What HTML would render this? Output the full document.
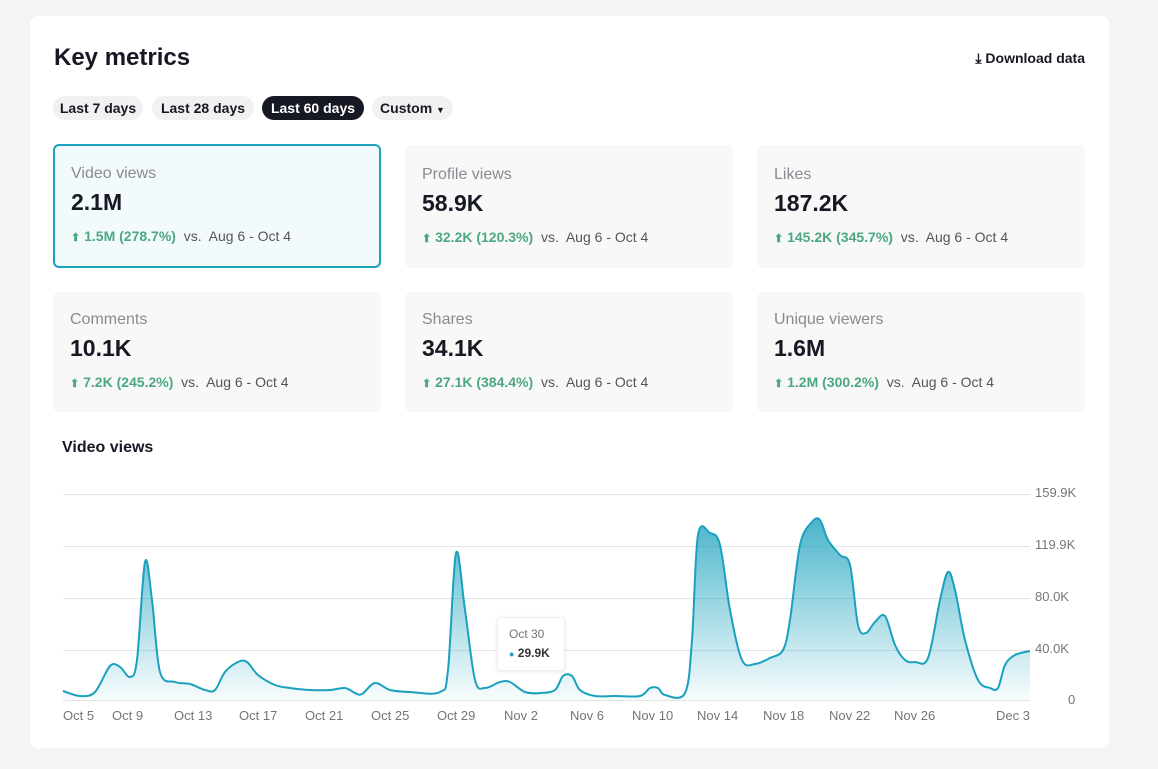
<!DOCTYPE html><html><head><meta charset="utf-8"><style>
body{margin:0;background:#f4f4f4;font-family:"Liberation Sans",Arial,sans-serif;width:1158px;height:769px;overflow:hidden;position:relative}
.card{position:absolute;left:30px;top:16px;width:1079px;height:732px;background:#fff;border-radius:8px}
.a{position:absolute}
h1{position:absolute;left:54px;top:44px;margin:0;font-size:24px;font-weight:bold;color:#161823}
.dl{position:absolute;right:73px;top:50px;font-size:14px;color:#161823;font-weight:bold}
.pill{position:absolute;top:96px;height:24px;line-height:24px;border-radius:12px;background:#f1f1f2;font-size:14px;font-weight:bold;color:#161823;text-align:center;white-space:nowrap;box-sizing:border-box}
.m{position:absolute;width:328px;background:#f8f8f8;border-radius:6px;box-sizing:border-box;padding-left:17px;white-space:nowrap}
.m .t{font-size:16px;color:#8a8b91;margin-top:21px}
.m .v{font-size:23px;font-weight:bold;color:#161823;margin-top:6px}
.m .c{font-size:14px;color:#555;margin-top:12px}
.m .c b{color:#4ba880;font-weight:bold}
.m .c i{font-style:normal;font-size:11px}
.sel{background:#f2fafc;border:2px solid #1aa1bd;padding-left:16px}
.sel .t{margin-top:19px}
.yl{position:absolute;left:1035px;font-size:13px;color:#757575}
.xl{position:absolute;top:708px;font-size:13px;color:#757575}
</style></head><body>
<div class="card"></div>
<h1>Key metrics</h1>
<div class="dl">⤓ Download data</div>
<div class="pill" style="left:53px;width:90px">Last 7 days</div>
<div class="pill" style="left:152px;width:102px">Last 28 days</div>
<div class="pill" style="left:262px;width:102px;background:#161823;color:#fff">Last 60 days</div>
<div class="pill" style="left:372px;width:81px">Custom <span style="font-size:9px">▼</span></div>

<div class="m sel" style="left:53px;top:144px;height:124px"><div class="t">Video views</div><div class="v">2.1M</div><div class="c"><b><i>⬆</i> 1.5M (278.7%)</b>&nbsp; vs.&nbsp; Aug 6 - Oct 4</div></div>
<div class="m" style="left:405px;top:145px;height:123px"><div class="t">Profile views</div><div class="v">58.9K</div><div class="c"><b><i>⬆</i> 32.2K (120.3%)</b>&nbsp; vs.&nbsp; Aug 6 - Oct 4</div></div>
<div class="m" style="left:757px;top:145px;height:123px"><div class="t">Likes</div><div class="v">187.2K</div><div class="c"><b><i>⬆</i> 145.2K (345.7%)</b>&nbsp; vs.&nbsp; Aug 6 - Oct 4</div></div>
<div class="m" style="left:53px;top:292px;height:120px"><div class="t" style="margin-top:19px">Comments</div><div class="v">10.1K</div><div class="c"><b><i>⬆</i> 7.2K (245.2%)</b>&nbsp; vs.&nbsp; Aug 6 - Oct 4</div></div>
<div class="m" style="left:405px;top:292px;height:120px"><div class="t" style="margin-top:19px">Shares</div><div class="v">34.1K</div><div class="c"><b><i>⬆</i> 27.1K (384.4%)</b>&nbsp; vs.&nbsp; Aug 6 - Oct 4</div></div>
<div class="m" style="left:757px;top:292px;height:120px"><div class="t" style="margin-top:19px">Unique viewers</div><div class="v">1.6M</div><div class="c"><b><i>⬆</i> 1.2M (300.2%)</b>&nbsp; vs.&nbsp; Aug 6 - Oct 4</div></div>

<div class="a" style="left:62px;top:439px;font-size:16px;font-weight:bold;color:#161823">Video views</div>
<svg class="a" style="left:0;top:0" width="1158" height="769">
<defs><linearGradient id="g" gradientUnits="userSpaceOnUse" x1="0" y1="515" x2="0" y2="700"><stop offset="0" stop-color="#1aa1bd" stop-opacity="0.8"/><stop offset="1" stop-color="#1aa1bd" stop-opacity="0.03"/></linearGradient></defs>
<g stroke="#e3e3e3" stroke-width="1">
<line x1="63" x2="1030" y1="494.5" y2="494.5"/><line x1="63" x2="1030" y1="546.5" y2="546.5"/><line x1="63" x2="1030" y1="598.5" y2="598.5"/><line x1="63" x2="1030" y1="650.5" y2="650.5"/><line x1="63" x2="1030" y1="700.5" y2="700.5"/></g>
<path id="area" fill="url(#g)"/><path id="line" fill="none" stroke="#1aa1bd" stroke-width="2"/>
</svg>
<div class="yl" style="top:485px">159.9K</div><div class="yl" style="top:537px">119.9K</div><div class="yl" style="top:589px">80.0K</div><div class="yl" style="top:641px">40.0K</div><div class="yl" style="left:1068px;top:692px">0</div>
<div class="xl" style="left:63px">Oct 5</div><div class="xl" style="left:112px">Oct 9</div><div class="xl" style="left:174px">Oct 13</div><div class="xl" style="left:239px">Oct 17</div><div class="xl" style="left:305px">Oct 21</div><div class="xl" style="left:371px">Oct 25</div><div class="xl" style="left:437px">Oct 29</div><div class="xl" style="left:504px">Nov 2</div><div class="xl" style="left:570px">Nov 6</div><div class="xl" style="left:632px">Nov 10</div><div class="xl" style="left:697px">Nov 14</div><div class="xl" style="left:763px">Nov 18</div><div class="xl" style="left:829px">Nov 22</div><div class="xl" style="left:894px">Nov 26</div><div class="xl" style="left:996px">Dec 3</div>
<div class="a" style="left:497px;top:617px;width:66px;height:52px;background:#fff;border:1px solid #eee;border-radius:4px;box-shadow:0 1px 4px rgba(0,0,0,.08)">
<div style="position:absolute;left:11px;top:9px;font-size:12px;color:#757575">Oct 30</div>
<div style="position:absolute;left:11px;top:28px;font-size:12px;font-weight:bold;color:#333"><span style="color:#1aa1bd;font-size:9px">●</span> 29.9K</div></div>
<script>
var p=[[63,691],[80,696],[95,692],[110,666],[120,667],[130,677],[137,660],[145,562],[152,600],[160,672],[175,682],[190,684],[205,690],[215,690],[225,672],[238,662],[247,662],[258,675],[275,685],[290,688],[310,690],[330,690],[345,688],[355,693],[362,694],[375,683],[390,690],[410,692],[440,692],[448,670],[456,553],[465,610],[475,680],[485,688],[500,682],[510,682],[525,692],[540,693],[555,690],[563,676],[572,676],[580,690],[595,696],[615,696],[640,696],[650,688],[658,688],[665,695],[685,693],[692,640],[698,535],[710,533],[720,545],[730,610],[742,660],[755,664],[770,658],[783,650],[790,620],[800,545],[812,522],[820,520],[828,540],[840,555],[850,565],[858,625],[866,633],[875,622],[885,616],[895,645],[905,660],[915,662],[928,658],[940,600],[948,572],[955,590],[965,640],[978,680],[990,688],[998,688],[1005,665],[1015,655],[1030,651]];
var d="M"+p[0];for(var i=0;i<p.length-1;i++){var a=p[i-1]||p[i],b=p[i],c=p[i+1],e=p[i+2]||c;var t=1/6;d+=" C"+(b[0]+(c[0]-a[0])*t)+","+(b[1]+(c[1]-a[1])*t)+" "+(c[0]-(e[0]-b[0])*t)+","+(c[1]-(e[1]-b[1])*t)+" "+c[0]+","+c[1];}
document.getElementById("line").setAttribute("d",d);document.getElementById("area").setAttribute("d",d+" L1030,700 L63,700 Z");
</script>
</body></html>
